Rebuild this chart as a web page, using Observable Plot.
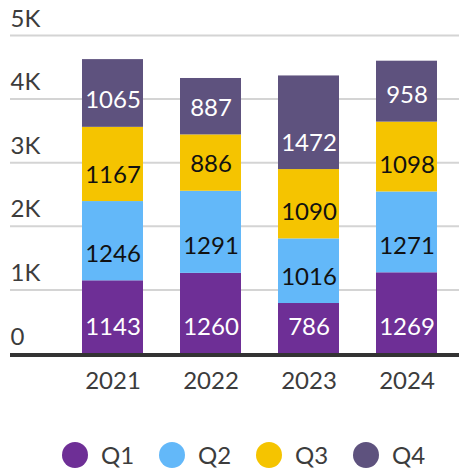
<!DOCTYPE html>
<html>
<head>
<meta charset="utf-8">
<script src="https://cdn.jsdelivr.net/npm/d3@7"></script>
<script src="https://cdn.jsdelivr.net/npm/@observablehq/plot@0.6"></script>
<style>
  body { margin: 0; background: #fff; font-family: Lato, "Open Sans", sans-serif; }
  #legend { display: flex; padding-left: 62px; margin-top: 42px; }
  .item { display: flex; align-items: center; width: 97px; }
  .dot { width: 26px; height: 26px; border-radius: 50%; margin-right: 13px; }
  .lab { font-size: 24px; color: #3c3c3c; line-height: 26px; }
</style>
</head>
<body>
<div id="chart"></div>
<div id="legend"></div>
<script>
const years = ["2021", "2022", "2023", "2024"];
const quarters = ["Q1", "Q2", "Q3", "Q4"];
const q1 = [1143, 1260, 786, 1269];
const q2 = [1246, 1291, 1016, 1271];
const q3 = [1167, 886, 1090, 1098];
const q4 = [1065, 887, 1472, 958];
const colors = ["#6e2f96", "#63b8f9", "#f5c400", "#5e527e"];
const darkLabelQuarters = ["Q2", "Q3"];
const yTicks = [0, 1000, 2000, 3000, 4000, 5000];
const gridTicks = [1000, 2000, 3000, 4000, 5000];

const series = [q1, q2, q3, q4];
const data = [];
years.forEach((year, i) => {
  quarters.forEach((q, j) => {
    data.push({year, quarter: q, value: series[j][i]});
  });
});

const fmt = v => v === 0 ? "0" : (v / 1000) + "K";
const isDark = d => darkLabelQuarters.includes(d.quarter);

const chart = Plot.plot({
  width: 461,
  height: 400,
  marginLeft: 10,
  marginRight: 2,
  marginTop: 35,
  marginBottom: 47,
  style: {fontFamily: "Lato, 'Open Sans', sans-serif", fontSize: "24px", background: "#fff"},
  x: {domain: years, range: [63.5, 455.5], paddingInner: 0.378, paddingOuter: 0.189, axis: null},
  y: {domain: [0, 5000], axis: null},
  color: {domain: quarters, range: colors},
  marks: [
    Plot.ruleY(gridTicks, {stroke: "#d4d4d4", strokeWidth: 2}),
    Plot.text(yTicks, {y: d => d, text: fmt, frameAnchor: "left", textAnchor: "start", lineAnchor: "bottom", dy: -9, fontSize: 24, fill: "#3c3c3c"}),
    Plot.barY(data, Plot.stackY({x: "year", y: "value", z: "quarter", fill: "quarter", inset: 0})),
    Plot.text(data, Plot.stackY1({x: "year", y: "value", z: "quarter",
      text: d => isDark(d) ? "" : String(d.value), fill: "#ffffff", fontSize: 24, lineAnchor: "bottom", dy: -19})),
    Plot.text(data, Plot.stackY1({x: "year", y: "value", z: "quarter",
      text: d => isDark(d) ? String(d.value) : "", fill: "#111111", fontSize: 24, lineAnchor: "bottom", dy: -19})),
    Plot.ruleY([0], {stroke: "#333333", strokeWidth: 4, dy: 1.5}),
    Plot.axisX({tickSize: 0, tickPadding: 18, fontSize: 24, fill: "#3c3c3c", label: null})
  ]
});
document.getElementById("chart").appendChild(chart);

const legend = document.getElementById("legend");
quarters.forEach((q, i) => {
  const item = document.createElement("div");
  item.className = "item";
  const dot = document.createElement("span");
  dot.className = "dot";
  dot.style.background = colors[i];
  const lab = document.createElement("span");
  lab.className = "lab";
  lab.textContent = q;
  item.appendChild(dot);
  item.appendChild(lab);
  legend.appendChild(item);
});
</script>
</body>
</html>
